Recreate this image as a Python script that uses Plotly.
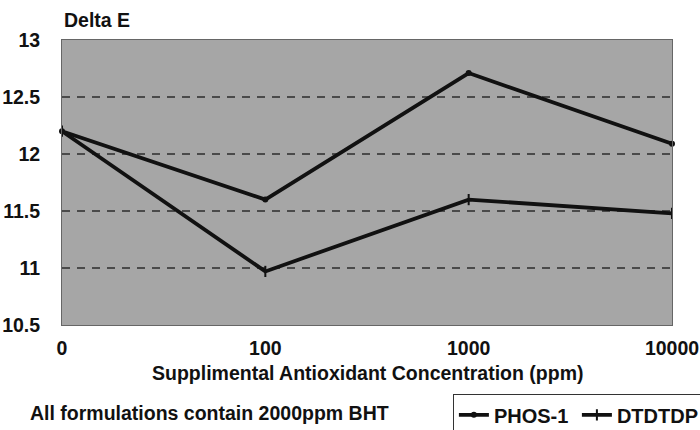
import plotly.graph_objects as go

categories = ["0", "100", "1000", "10000"]
phos1 = [12.2, 11.6, 12.71, 12.09]
dtdtdp = [12.2, 10.97, 11.6, 11.48]
y_ticks = [10.5, 11, 11.5, 12, 12.5, 13]
y_tick_labels = ["10.5", "11", "11.5", "12", "12.5", "13"]

FONT = "Liberation Sans, Arial, sans-serif"
TXT = 19.5

fig = go.Figure()
fig.add_trace(go.Scatter(
    x=categories, y=phos1, name="PHOS-1", mode="lines+markers",
    line=dict(color="#111111", width=3.8),
    marker=dict(symbol="circle", size=6, color="#111111"),
    cliponaxis=False,
))
fig.add_trace(go.Scatter(
    x=categories, y=dtdtdp, name="DTDTDP", mode="lines+markers",
    line=dict(color="#111111", width=3.8),
    marker=dict(symbol="line-ns", size=8, line=dict(width=2, color="#111111")),
    cliponaxis=False,
))

fig.update_layout(
    width=700, height=430,
    margin=dict(l=62, r=28, t=40, b=105, autoexpand=False),
    paper_bgcolor="white",
    plot_bgcolor="#a6a6a6",
    font=dict(family=FONT, size=TXT, color="#111111", weight="bold"),
    showlegend=True,
    legend=dict(
        orientation="h", xref="container", yref="container",
        x=0.647, xanchor="left", y=0.083, yanchor="top",
        bordercolor="#333333", borderwidth=1, bgcolor="white",
        font=dict(size=20, weight="bold"), itemwidth=30, tracegroupgap=0,
        entrywidth=78, entrywidthmode="pixels",
    ),
    xaxis=dict(
        type="category", range=[0, 3], showgrid=False, zeroline=False,
        showline=True, linecolor="#666666", linewidth=1, mirror=True,
        ticks="", ticklabelstandoff=6, tickfont=dict(size=TXT, weight="bold"),
        automargin=False,
    ),
    yaxis=dict(
        range=[10.5, 13], tickvals=y_ticks, ticktext=y_tick_labels,
        showgrid=True, gridcolor="#4a4a4a", gridwidth=1.5, griddash="8px,7px",
        zeroline=False, showline=True, linecolor="#666666", linewidth=1, mirror=True,
        ticks="", ticklabelstandoff=17, tickfont=dict(size=TXT, weight="bold"),
        automargin=False,
    ),
    annotations=[
        dict(text="Delta E", x=0, y=1.07, xref="paper", yref="paper",
             xanchor="left", yanchor="middle", showarrow=False,
             font=dict(size=TXT, weight="bold")),
        dict(text="Supplimental Antioxidant Concentration (ppm)", x=0.502, y=-0.168,
             xref="paper", yref="paper", xanchor="center", yanchor="middle",
             showarrow=False, font=dict(size=TXT, weight="bold")),
        dict(text="All formulations contain 2000ppm BHT", x=-0.0557, y=-0.309,
             xref="paper", yref="paper", xanchor="left", yanchor="middle",
             showarrow=False, font=dict(size=TXT, weight="bold")),
    ],
)

fig.write_html(
    "out.html",
    config={"displayModeBar": False},
    post_script="document.body.style.margin='0';document.body.style.overflow='hidden';",
)
